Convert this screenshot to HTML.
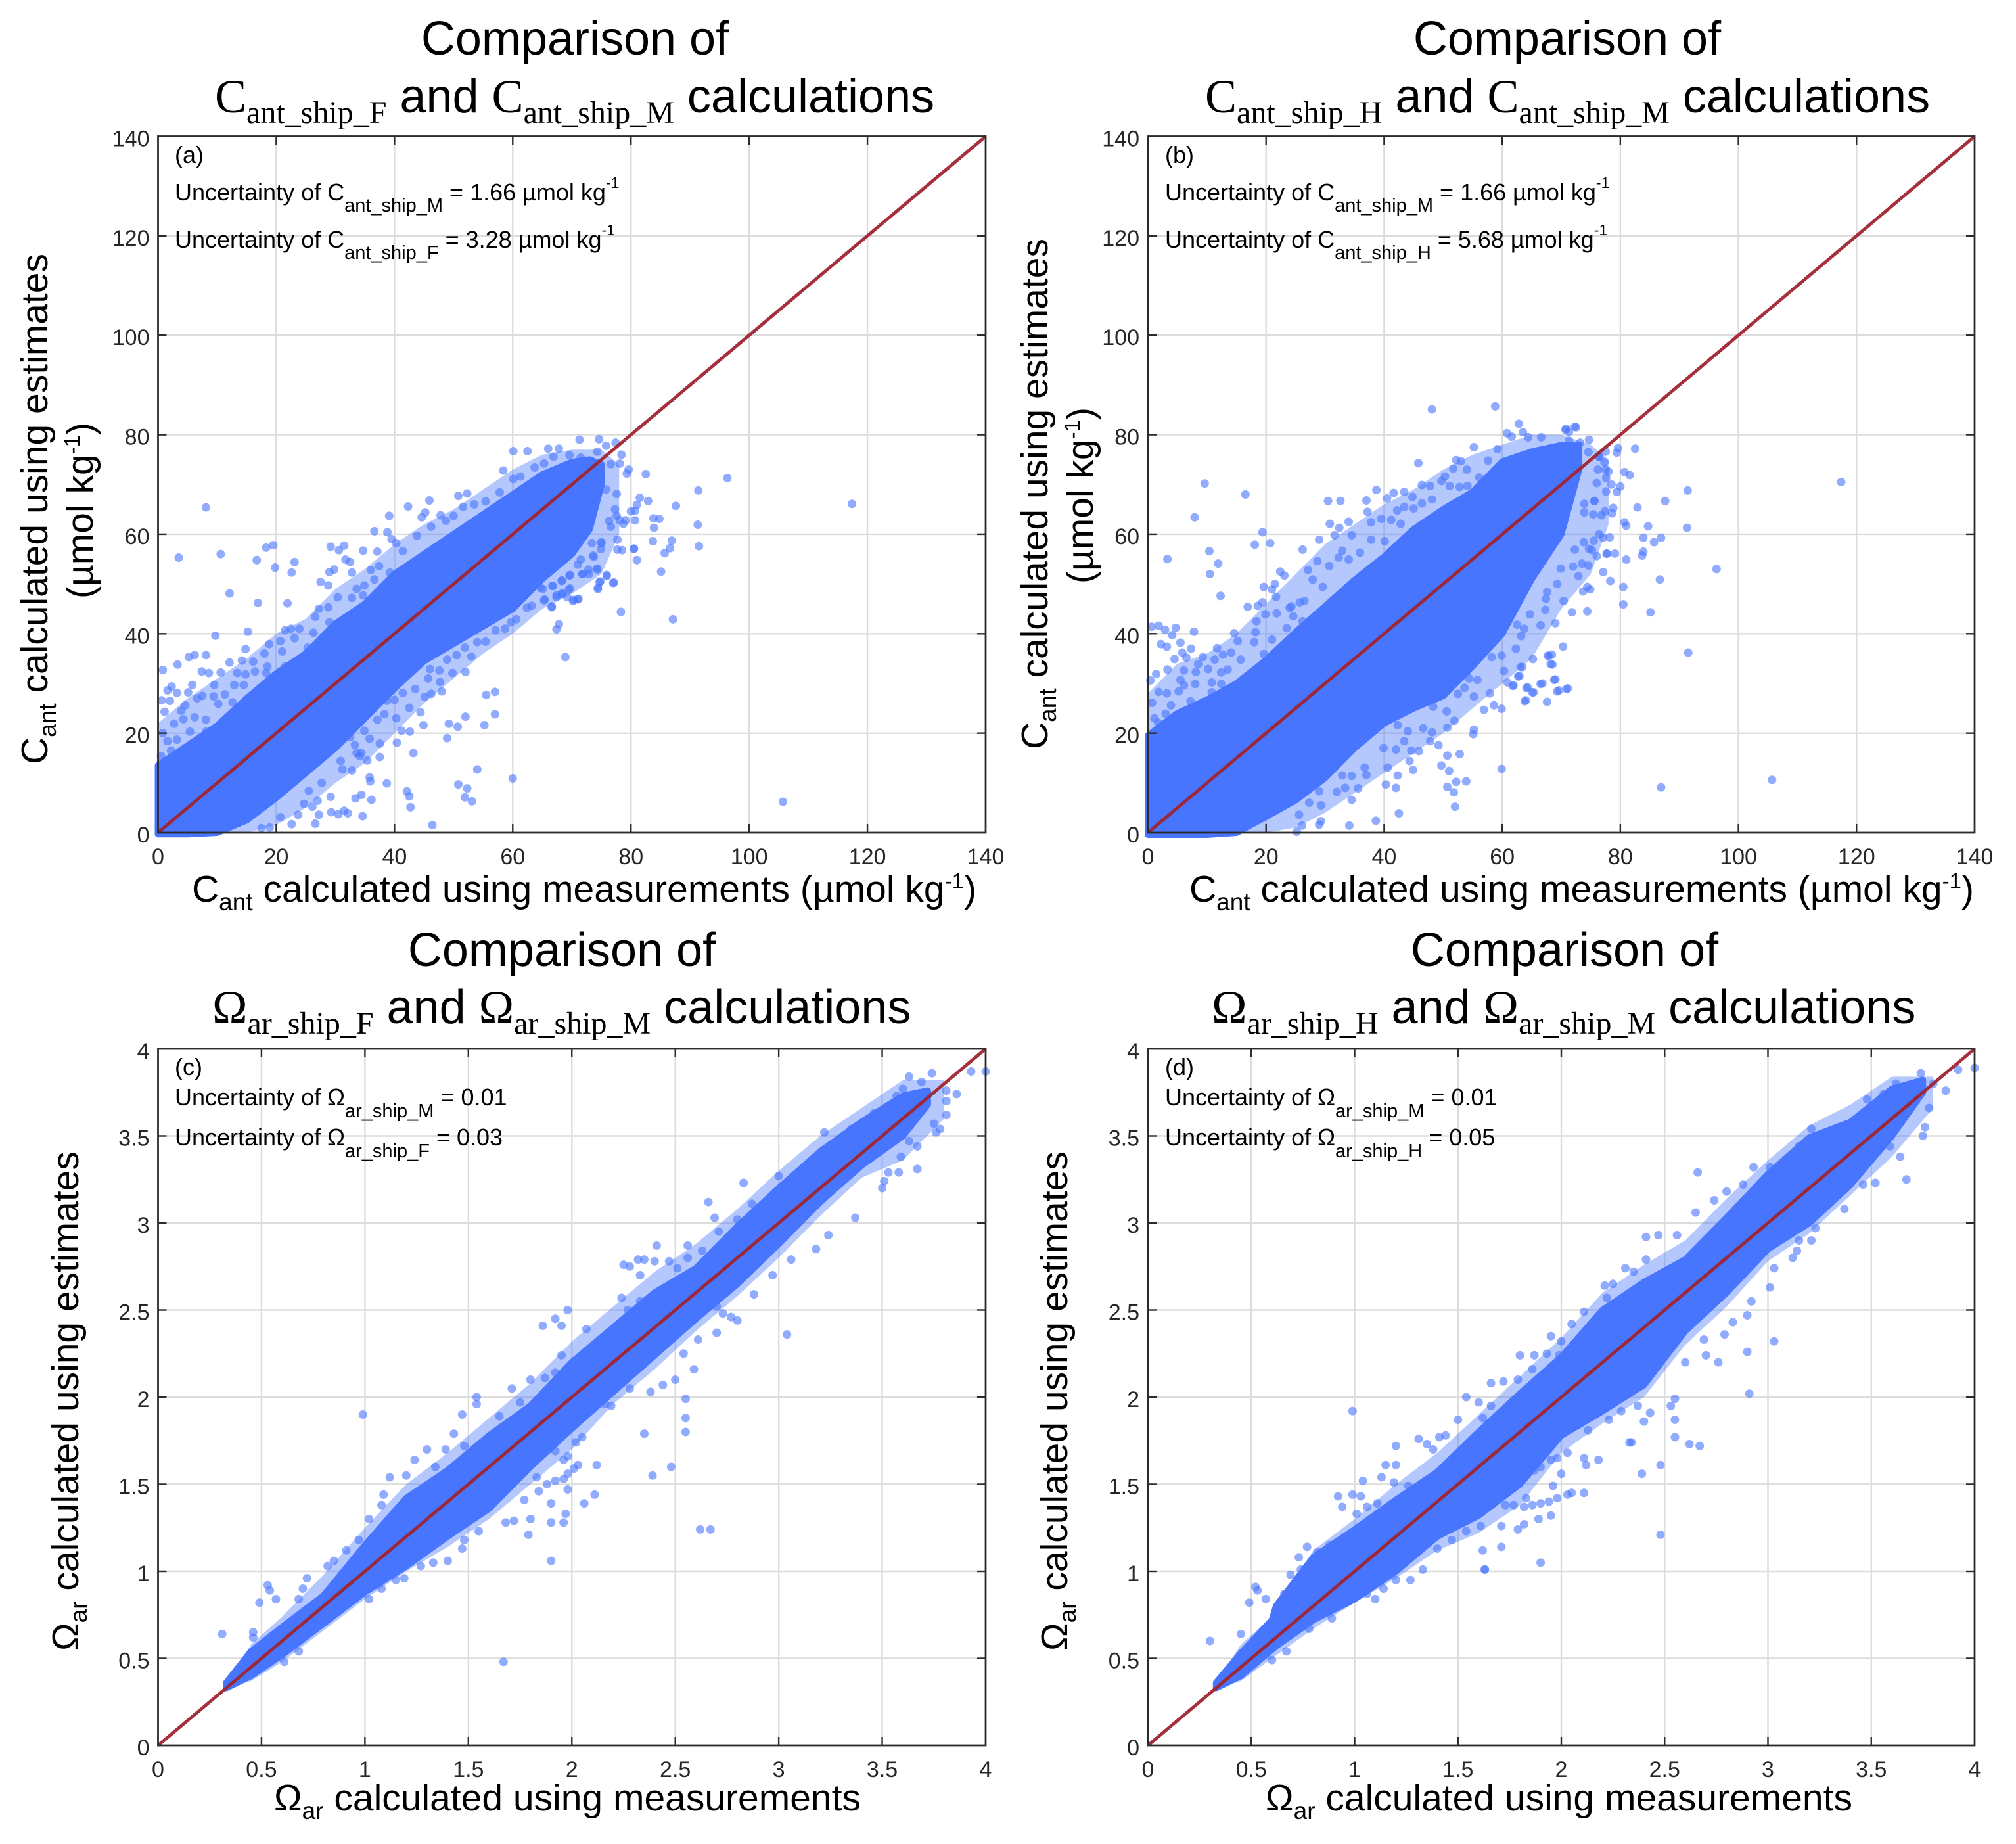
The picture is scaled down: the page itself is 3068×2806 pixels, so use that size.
<!DOCTYPE html>
<html lang="en">
<head>
<meta charset="utf-8">
<title>Comparison of estimated and measured Cant and Omega-ar</title>
<style>
html,body{margin:0;padding:0;background:#fff;}
svg{display:block;}
text{font-family:"Liberation Sans",Arial,sans-serif;fill:#000;white-space:pre;}
.s{font-family:"Liberation Serif","Times New Roman",serif;}
.tick{font-size:34px;fill:#262626;}
.ann{font-size:36px;}
.ttl{font-size:72px;}
.lab{font-size:57px;}
</style>
</head>
<body>
<svg id="figure" xmlns="http://www.w3.org/2000/svg" width="3068" height="2806" viewBox="0 0 3068 2806">
<rect width="3068" height="2806" fill="#fff"/>
<g id="charts"></g>

<!-- Panel a text -->
<text class="ttl" x="875" y="83" text-anchor="middle">Comparison of</text>
<text class="ttl" x="327" y="171"><tspan class="s">C</tspan><tspan class="s" font-size="48" dy="16">ant_ship_F</tspan><tspan dy="-16"> and </tspan><tspan class="s">C</tspan><tspan class="s" font-size="48" dy="16">ant_ship_M</tspan><tspan dy="-16"> calculations</tspan></text>
<text class="ann" x="266" y="248">(a)</text>
<text class="ann" x="266" y="305">Uncertainty of C<tspan font-size="29" dy="17">ant_ship_M</tspan><tspan dy="-17"> = 1.66 µmol kg</tspan><tspan font-size="23" dy="-19">-1</tspan></text>
<text class="ann" x="266" y="377">Uncertainty of C<tspan font-size="29" dy="17">ant_ship_F</tspan><tspan dy="-17"> = 3.28 µmol kg</tspan><tspan font-size="23" dy="-19">-1</tspan></text>
<text class="lab" x="292" y="1372">C<tspan font-size="37" dy="13">ant</tspan><tspan dy="-13"> calculated using measurements (µmol kg</tspan><tspan font-size="33" dy="-20">-1</tspan><tspan dy="20">)</tspan></text>
<text class="lab" transform="translate(72,1163) rotate(-90)">C<tspan font-size="37" dy="13">ant</tspan><tspan dy="-13"> calculated using estimates</tspan></text>
<text class="lab" transform="translate(141,777) rotate(-90)" text-anchor="middle">(µmol kg<tspan font-size="33" dy="-20">-1</tspan><tspan dy="20">)</tspan></text>

<!-- Panel b text -->
<text class="ttl" x="2385" y="83" text-anchor="middle">Comparison of</text>
<text class="ttl" x="1834" y="171"><tspan class="s">C</tspan><tspan class="s" font-size="48" dy="16">ant_ship_H</tspan><tspan dy="-16"> and </tspan><tspan class="s">C</tspan><tspan class="s" font-size="48" dy="16">ant_ship_M</tspan><tspan dy="-16"> calculations</tspan></text>
<text class="ann" x="1773" y="248">(b)</text>
<text class="ann" x="1773" y="305">Uncertainty of C<tspan font-size="29" dy="17">ant_ship_M</tspan><tspan dy="-17"> = 1.66 µmol kg</tspan><tspan font-size="23" dy="-19">-1</tspan></text>
<text class="ann" x="1773" y="377">Uncertainty of C<tspan font-size="29" dy="17">ant_ship_H</tspan><tspan dy="-17"> = 5.68 µmol kg</tspan><tspan font-size="23" dy="-19">-1</tspan></text>
<text class="lab" x="1810" y="1372">C<tspan font-size="37" dy="13">ant</tspan><tspan dy="-13"> calculated using measurements (µmol kg</tspan><tspan font-size="33" dy="-20">-1</tspan><tspan dy="20">)</tspan></text>
<text class="lab" transform="translate(1594,1140) rotate(-90)">C<tspan font-size="37" dy="13">ant</tspan><tspan dy="-13"> calculated using estimates</tspan></text>
<text class="lab" transform="translate(1663,754) rotate(-90)" text-anchor="middle">(µmol kg<tspan font-size="33" dy="-20">-1</tspan><tspan dy="20">)</tspan></text>

<!-- Panel c text -->
<text class="ttl" x="855" y="1470" text-anchor="middle">Comparison of</text>
<text class="ttl" x="323" y="1557"><tspan class="s">Ω</tspan><tspan class="s" font-size="48" dy="16">ar_ship_F</tspan><tspan dy="-16"> and </tspan><tspan class="s">Ω</tspan><tspan class="s" font-size="48" dy="16">ar_ship_M</tspan><tspan dy="-16"> calculations</tspan></text>
<text class="ann" x="266" y="1636">(c)</text>
<text class="ann" x="266" y="1682">Uncertainty of Ω<tspan font-size="29" dy="18">ar_ship_M</tspan><tspan dy="-18"> = 0.01</tspan></text>
<text class="ann" x="266" y="1743">Uncertainty of Ω<tspan font-size="29" dy="18">ar_ship_F</tspan><tspan dy="-18"> = 0.03</tspan></text>
<text class="lab" x="417" y="2755">Ω<tspan font-size="37" dy="13">ar</tspan><tspan dy="-13"> calculated using measurements</tspan></text>
<text class="lab" transform="translate(119,2512) rotate(-90)">Ω<tspan font-size="37" dy="13">ar</tspan><tspan dy="-13"> calculated using estimates</tspan></text>

<!-- Panel d text -->
<text class="ttl" x="2381" y="1470" text-anchor="middle">Comparison of</text>
<text class="ttl" x="1844" y="1557"><tspan class="s">Ω</tspan><tspan class="s" font-size="48" dy="16">ar_ship_H</tspan><tspan dy="-16"> and </tspan><tspan class="s">Ω</tspan><tspan class="s" font-size="48" dy="16">ar_ship_M</tspan><tspan dy="-16"> calculations</tspan></text>
<text class="ann" x="1773" y="1636">(d)</text>
<text class="ann" x="1773" y="1682">Uncertainty of Ω<tspan font-size="29" dy="18">ar_ship_M</tspan><tspan dy="-18"> = 0.01</tspan></text>
<text class="ann" x="1773" y="1743">Uncertainty of Ω<tspan font-size="29" dy="18">ar_ship_H</tspan><tspan dy="-18"> = 0.05</tspan></text>
<text class="lab" x="1926" y="2755">Ω<tspan font-size="37" dy="13">ar</tspan><tspan dy="-13"> calculated using measurements</tspan></text>
<text class="lab" transform="translate(1624,2512) rotate(-90)">Ω<tspan font-size="37" dy="13">ar</tspan><tspan dy="-13"> calculated using estimates</tspan></text>
</svg>

<script>
// Tick labels
const cantTicks = [0,20,40,60,80,100,120,140];
const omegaTicks = [0,0.5,1,1.5,2,2.5,3,3.5,4];
const oneToOne = [0,1];

const bandAX = [0,5,10,15,20,25,30,35,40,45,50,55,60,65,70,73,75];
const bandAHigh = [13.5,17.5,21.5,27,32,36,42,46,52,56,60,64,68,72,74.5,75,74];
const bandALow = [-0.3,-0.3,0,2.5,7,12,17,23,29,34.5,38,41.5,45,51,56,61,70];

const bandBX = [0,5,10,15,20,25,30,35,40,45,50,55,60,65,70,73];
const bandBHigh = [19.5,24,26.7,30,34.7,40.3,45.5,50.8,55.5,61,65,68.5,74.6,76.6,77.9,77.9];
const bandBLow = [-0.4,-0.4,-0.4,0,3.2,6.5,11,17,22,25,27.5,33.5,40,51,60,73];

const bandCX = [0.33,0.45,0.6,0.8,1,1.2,1.4,1.6,1.8,2,2.2,2.4,2.6,2.8,3,3.2,3.4,3.6,3.72];
const bandCHigh = [0.36,0.54,0.68,0.86,1.15,1.42,1.58,1.78,1.95,2.2,2.4,2.6,2.74,2.98,3.2,3.41,3.58,3.73,3.76];
const bandCLow = [0.33,0.4,0.52,0.7,0.88,1.03,1.2,1.36,1.6,1.82,2.03,2.24,2.45,2.65,2.88,3.12,3.33,3.5,3.68];

const bandDX = [0.33,0.45,0.6,0.62,0.8,1,1.2,1.4,1.6,1.8,2,2.2,2.4,2.6,2.8,3,3.2,3.4,3.6,3.75];
const bandDHigh = [0.36,0.53,0.72,0.8,1.08,1.24,1.41,1.57,1.8,2.02,2.23,2.5,2.66,2.79,3.03,3.28,3.49,3.58,3.77,3.82];
const bandDLow = [0.33,0.4,0.55,0.57,0.72,0.84,1,1.2,1.32,1.5,1.78,1.92,2.07,2.38,2.6,2.85,3,3.22,3.5,3.75];

// Sparser fringe around the dense cloud (lighter region of overlapping points)
const fringeCantX = [0,5,10,15,20,25,30,35,40,45,50,55,60,65,70,75,78];
const fringeAHigh = [22,27,31,35,40,43,49,53,58,62,65,69,73,76,77,77,74];
const fringeALow = [0,0,0,0,1.5,5,10,14,20,26,31,36,40,45,48,52,60];
const fringeBHigh = [28,34,36,40,46,52,58,62,66,69,73,76,78,80,80,78,75];
const fringeBLow = [0,0,0,0,0,1,4,8,12,16,20,25,30,35,45,52,62];

const fringeOmegaX = [0.33,0.45,0.6,0.8,1,1.2,1.4,1.6,1.8,2,2.2,2.4,2.6,2.8,3,3.2,3.4,3.6,3.8];
const fringeCHigh = [0.36,0.58,0.74,0.98,1.25,1.5,1.68,1.88,2.08,2.32,2.52,2.72,2.88,3.08,3.3,3.5,3.66,3.82,3.82];
const fringeCLow = [0.33,0.37,0.48,0.66,0.84,1,1.14,1.3,1.5,1.7,1.96,2.16,2.38,2.58,2.8,3.04,3.26,3.36,3.6];
const fringeDHigh = [0.36,0.58,0.74,1.12,1.3,1.5,1.68,1.9,2.12,2.34,2.6,2.76,2.9,3.14,3.36,3.56,3.68,3.84,3.84];
const fringeDLow = [0.33,0.37,0.5,0.67,0.82,0.96,1.12,1.22,1.38,1.68,1.85,2,2.3,2.52,2.78,2.94,3.16,3.38,3.66];

// Individually visible points [measurement, estimate]
const pointsA = [[8.1,65.4],[3.5,55.3],[10.6,56],[16.7,54.8],[18.3,57.3],[19.5,57.8],[19.8,53.3],[23.1,54.4],[22.6,52.3],[12.1,48.1],[16.9,46.2],[21.9,46.1],[29.2,57.5],[31.5,57.7],[30.6,56.8],[34.7,56.7],[37.1,56.5],[36.6,60.6],[39.1,63.7],[38.8,60.4],[42.3,65.6],[45.9,66.8],[50.8,67.7],[52.3,68.2],[44.6,63.4],[45.2,64.4],[47.8,63.8],[43.8,59.7],[46.2,61.5],[58.4,72.8],[60.1,76.7],[62.5,76.7],[66,77.2],[67.8,77.2],
[71.3,79],[74.6,79.1],[77.4,78.4],[75.8,77.8],[74.3,76.6],[78.4,76],[78.1,74.2],[76.6,74.1],[79.6,73],[79.3,72.2],[82.5,72.1],[96.3,71.3],[91.4,68.8],[117.4,66.1],[87.6,65.7],[81.5,67.3],[82.9,66.7],[81,65.9],[80,64.6],[80.7,64.7],[77.6,68.1],[75.8,69],[77.3,65],[77.6,63.7],[78.1,62.8],[79.1,62.8],[80.7,62.8],[78.7,62.1],[76.6,61.5],[76.3,62.7],[83.8,63.2],[84.8,63.1],[83.9,61.3],[91.3,61.9],[77.7,58.9],[83.7,58.6],[86.9,58.7],[86.6,57.2],[91.5,57.6],[85.7,56.2],[77.7,56.9],[78.5,56.8],[80.5,57.1],[80.5,57.1],[81,54.8],[85.1,52.5],[75,58.4],[73.6,55.7],[74.9,57],[74.3,53.1],[72.8,52.9],[71.8,52],[72.9,52],[75.9,51.8],[74.8,50.5],[77.1,50.3],[74.4,49.2],[69.7,51.8],[69.7,49.1],[68.4,48.1],[67.4,47.7],[69.2,47.4],[71.1,47],[70.3,46.8],[65.4,46.9],[66.6,45.5],[78.3,44.4],[87.1,42.9],[67.8,41.9],[67.4,40.9],[68.9,35.3],[68.3,50.7],[66.8,49.6],[64.7,49.2],
[53.5,66],[51.6,65.5],[50,63.7],[48.7,62.7],[55.4,66.6],[57.8,68.4],[61.3,71.6],[60.1,71.1],[63.7,73.4],[65.3,74.2],[66.9,75.6],[69.6,75.9],[71.5,75.4],[40.3,58.2],[41.4,56.6],[39.5,59],[31.7,54.9],[32.5,54.4],[37.4,53.6],[36,52.8],[32.8,52.3],[29.8,52.9],[29,52.4],[27.5,50.4],[28.8,49.7],[33.6,49],[34.9,49.7],[36.6,50.9],[39.2,52.3],[30.4,47.3],[32.8,47.2],[34.7,47.7],[27.2,45],[28.8,45.3],[26.6,43.4],[29,42.3],[21.5,40.7],[23.9,41],[22.5,41],[26.3,40.2],[15.2,40.4],[9.7,39.6],[20.7,38.5],[18.8,37.9],[14.8,36.9],[23.1,39.1],[25.3,37.2],[21,36.4],[18,36],[6.2,35.7],[5.2,35.3],[8.1,35.7],[3.3,33.8],[0.8,32.7],[12.1,34.2],[14.2,34.6],[16.1,34.4],[18.5,33.4],[21.5,33.4],[7.4,32.4],[8.6,32.1],[10.6,32.2],[13.4,32.1],[16.4,32.4],[18.3,32.1],[14.8,31.8],[9.5,29.7],[12.9,29.7],[14.5,29.7],[2.3,29.4],[5.8,29.7],[1.6,28.6],[3.2,28.1],[5.1,28.2],[7.5,27.5],[9.4,27.4],[11.3,27.8],[0.6,26.6],[2,26.5],[4.6,25.6],[6.6,27],[12.6,26.2],[1.1,24.3],[3.9,24.5],[10.2,25.9],[6.2,23.2],[4.3,22.8],[8.1,22.7],[2.7,21.9],[8.1,20.3],[5.4,20.3],[1.6,18.4],[3.2,18.7],[0.8,20],[2.2,16.5],[0.5,15.4],
[71.5,59.5],[73.4,58.2],[75,58.2],[71.5,54.9],[71,53.9],[73.7,55.5],[74.3,52.9],[71.8,52],[75.9,51.6],[74.7,50.4],[77,50.2],[74.4,49],[69.6,51.7],[68.3,50.6],[69.5,48.9],[71,46.9],[70.2,46.6],[68.3,48],[67.4,47.4],[65.3,46.7],[66.6,45.3],[62.4,45.2],[63.2,45.6],[66.7,49.6],[65.1,49],[64,51.5],[60.6,42.9],[59.7,42.3],[58.7,41],[57.1,40.7],[55.4,38.4],[54,38.3],[53,35.4],[51.9,37.2],[50.5,35.7],[52,32.3],[49.8,32.1],[47.6,32.6],[48.9,34.8],[46,32.9],[47.7,30.3],[48,28.4],[46.2,27.9],[45.1,27.3],[55.5,27.7],[57,28.3],[57,23.8],[52,23.3],[55.2,21.6],[49.2,21.9],[50.7,21.3],[48.9,19],[44.4,24.2],[44.9,21.6],[42.5,25.1],[41.2,20.5],[42.6,20.3],[40.3,23],[38.3,23.8],[40.4,18.1],[43.2,16],[37.5,17.9],[37.5,15.2],[35.8,18.9],[34.9,20.5],[37.1,22.7],[35.4,14.5],[34.1,15.4],[54,12.7],[60,10.9],[50.8,9.7],[52.3,8.9],[51.9,7.1],[53.1,6.3],[105.7,6.2],[42.1,8.3],[42.5,7.3],[42.7,5.1],[46.4,1.5],[38.7,9.9],[35.8,11.1],[35.9,10.3],[34.4,7.6],[33.4,6.9],[36.1,6.6],[34.6,3.3],[32.1,3.9],[31.5,4.4],[30.5,3.7],[29.3,4.1],[29.2,7.2],[27,6.4],[27.2,3.6],[26.6,1.8],[25.5,8.4],[27.7,10],[32.8,12.5],[31.2,12.7],[22.6,1.7],[18.9,1],[17.5,0.9],[23.7,3.6],[20.7,3.1],[24.7,5.8],[26.1,5.2],[33.3,17.6],[33.6,16],[30.9,14.4],[32.5,19.2],[34.4,16],[38.7,26.5],[40,26.7],[41.4,28.1],[43.5,28.9],[45.7,31]];

const pointsB = [[48.1,85.1],[58.8,85.7],[62.8,82.2],[70.7,81],[72.3,81.6],[60.8,80.3],[61.6,79.6],[63.5,80.5],[64.4,79.5],[66.6,79.5],[55.2,77.5],[59.2,77.1],[45.8,74.3],[9.6,70.2],[16.5,68],[7.9,63.4],[52.2,74.9],[53,74.7],[54,73],[51.7,73.2],[57.6,74.8],[56.1,71.4],[50.3,71.6],[49.7,70.7],[46.4,69.9],[47.8,69.7],[51.1,69.7],[52.8,69.5],[54.1,69.7],[38.7,68.9],[41.6,68.3],[43.4,68.5],[40.5,67.2],[44.8,67.5],[48.1,67],[30.5,66.7],[32.6,66.7],[37,66.8],[37.2,64.5],[42.2,64.8],[43.4,65.5],[46.4,66.2],[45,65.2],[30.8,62.1],[32.4,61.3],[34,62.5],[39.5,63.1],[37.8,62.4],[41.2,62.9],[42.8,62.1],[34.5,59.8],[31.6,59.8],[29,58.9],[26.2,56.9],[19.4,60.4],[18.1,57.9],[20.7,58.2],[10.4,56.6],[3.3,55],[11.9,54.1],[10.5,52],[12.3,47.6],[32.3,55.3],[32.9,56.7],[35.9,56.3],[37.8,58.9],[40.1,58.6],[34,54.9],[28.7,54.6],[27.1,52.8],[30.7,53.6],[22.4,52.5],[23.1,51.7],[21.5,50],[21,48.9],[19.6,49.4],[21.7,47.4],[27.9,50.9],[29.6,49.4],[26.5,46.6],[25.7,46.3],[24.3,45.5],[24,45.2],[18.6,45.6],[16.9,45.4],[19.4,46.3],[19.9,43.9],[21.8,44.1],[24.6,43.5],[26.2,42.5],[18.4,42.5],[18.2,40.3],[21,38.8],[23.5,41.1],[14.6,40.1],[15.2,38.5],[18,38.3],[0.6,41.4],[1.8,41.6],[2.9,40.8],[4.7,41.2],[7.8,40.4],[4.1,39.7],[2.2,37.9],[3.2,37.4],[5.5,38.2],[7.3,37],[11.7,37.1],[5.8,36.2],[4.5,34.9],[6.5,35.2],[9.3,35.3],[11.3,34.8],[12.7,35.8],[14.1,36.2],[15.7,34.8],[19.6,35.9],[1.4,31.9],[0.4,30.6],[3.3,32.8],[6.1,32.6],[8.5,33.9],[10.2,32.9],[12.4,32.2],[13.5,32.8],[5.5,30.7],[6.1,29.6],[8.1,32.3],[8,29.9],[10.8,30.2],[12.4,29.9],[15.5,29.6],[1.8,28.3],[3.2,28],[5.2,28.4],[10.8,28.2],[0.7,26.1],[7.2,26.4],[3.9,25.6],[9.4,26.3],[3,23.9],[7.7,24.7],[1.1,23],[1.7,22.1],
[72.5,81.5],[70.8,81.2],[71.3,80.6],[74.7,79],[71.3,78.8],[73.2,78.4],[82.5,77.2],[79.6,77.3],[79.4,76.4],[77.5,76.6],[76.4,75.6],[76.4,75.6],[74.6,76.5],[77.3,74.5],[76.2,73],[78,72.6],[77.5,73],[80.7,72.5],[81.6,71.9],[77.6,71.3],[78.5,70],[80,69.6],[77.6,68.6],[79.4,68.5],[91.4,68.8],[87.6,66.7],[82.9,65.4],[117.4,70.5],[75.6,66.7],[75.6,66.7],[76,70.3],[78.8,65.3],[77.4,64.6],[78.6,64.2],[76.8,63.8],[75.4,64],[73.9,64.4],[73.9,66.1],[80.7,62.4],[81,61.7],[84.7,61.6],[91.3,61.3],[83.9,59.3],[86.9,59.3],[85.7,58.4],[78.2,59.4],[77.1,59.3],[76.4,60],[75.5,58.7],[73.8,58.4],[72.3,56.9],[74.7,57.1],[75.2,56.8],[76,55.6],[77.7,56.1],[77.7,56.1],[79.1,56.1],[83.9,56.5],[83.7,55.7],[81,54.9],[74.6,53.7],[73.5,54.1],[72,53.5],[69.9,53.1],[77.1,52.4],[96.3,53],[72.9,51.6],[78.3,50.6],[80.5,49.4],[86.7,50.9],[69.3,50],[74.4,49.4],[74.9,48.9],[73.7,48.5],[67.6,48.4],[67.4,47],[70.4,46.6],[80.5,45.9],[67.3,44.8],[71.8,44.3],[74.4,44.5],[85.1,44.3],[64.7,43.9],[69,42.1],[66.5,41.7],[62.5,41.8],[63.7,41],[63.2,39.5],[70.3,37.4],[91.5,36.2],[62.3,37],[68.4,35.8],[67.9,35.5],[65.2,34.9],[68.5,33.8],[63.4,33.3],[62.9,31.5],[69,30.8],[66.8,30],[61.9,29.6],[64.3,29.2],[65.3,28.2],[69.6,28.6],[71.1,29],[64,26.6],[67.6,26.3],[105.7,10.6],[86.9,9.1],
[59.9,12.8],[59.9,24.9],[56.9,24.7],[58.6,25.6],[57.9,28],[60.9,30.2],[60.3,32.5],[61.8,29.5],[55.2,27.4],[55.2,20.7],[55.1,19.8],[50.7,21.1],[51.9,22.5],[50.6,24.4],[48.3,25.3],[45.6,26.4],[52.5,27.9],[53.6,29.1],[54.4,31],[55.8,30.7],[56.9,36.5],[59.9,35.6],[58.2,35.3],[48.1,20.2],[47.8,18.4],[49.2,17.6],[45.9,16.4],[44.6,16.5],[52.8,15.8],[50.7,15.5],[49.7,13.5],[51,12.4],[44.9,12.6],[44.3,14.4],[40.6,13.1],[42.3,11.5],[40.3,9.7],[42,9],[50.7,9.2],[52.2,10.2],[53.9,10.3],[51.8,8.1],[52,5.2],[42.5,3.9],[38.6,2.4],[34.1,1.4],[29,1.6],[26.1,1.4],[25.2,0.2],[29.3,2.3],[32,8.2],[33.4,9],[34.5,6.6],[35.6,8.9],[34.5,11.4],[36.7,13.1],[37,11.6],[32.9,11.5],[29.3,5.5],[27.3,6],[25.6,3.6],[29,8.3],[39.9,17],[42,16.7],[43.4,18.4],[42.3,21.6],[44,20.4],[46.6,21],[63.8,26.4],[69.3,28.4],[70.9,28.9],[68.8,30.7],[66.5,29.9],[64.1,29.1],[65.1,28.2],[63.1,33.3],[62.7,31.4],[68.2,33.9],[67.7,35.6]];

const pointsC = [[0.31,0.64],[0.46,0.65],[0.46,0.62],[0.49,0.82],[0.53,0.92],[0.54,0.89],[0.57,0.84],[0.68,0.84],[0.7,0.9],[0.72,0.96],[0.61,0.48],[0.68,0.54],[1.67,0.48],[0.99,1.9],[1.02,0.84],[1.08,0.9],[1.19,0.96],[1.15,0.95],[1.27,1.03],[1.33,1.05],[1.4,1.06],[1.47,1.13],[1.48,1.18],[1.55,1.23],[1.68,1.28],[1.72,1.29],[1.8,1.3],[1.79,1.21],[1.9,1.28],[1.96,1.28],[1.97,1.33],[1.9,1.06],[1.9,1.39],[2.06,1.39],[2.11,1.44],[1.98,1.47],[1.77,1.41],[2.62,1.24],[2.67,1.24],[2.39,1.55],[2.48,1.6],[2.35,1.79],[2.55,1.8],[2.55,1.88],[2.55,1.99],[3.04,2.36],[2.59,2.16],[2.5,2.1],[2.44,2.07],[2.38,2.03],[2.28,2.05],[2.19,1.95],[2.12,1.61],[2.03,1.61],[2.01,1.59],[1.98,1.56],[1.96,1.53],[1.92,1.52],[1.88,1.5],[1.84,1.46],[1.83,1.54],[1.92,1.69],[1.98,1.66],[1.96,1.64],[2.05,1.77],[2.02,1.74],[2.06,1.89],[2.16,1.96],
[1.86,2.41],[1.92,2.45],[1.95,2.41],[1.98,2.5],[2.07,2.39],[1.95,2.24],[1.8,2.1],[1.87,2.11],[1.92,2.14],[1.71,2.05],[1.75,1.97],[1.54,2],[1.54,1.96],[1.47,1.9],[1.65,1.89],[1.43,1.79],[1.3,1.7],[1.48,1.72],[1.39,1.7],[1.24,1.64],[1.12,1.54],[1.2,1.55],[1.34,1.6],[1.09,1.44],[1.08,1.38],[1.02,1.3],[0.97,1.18],[0.91,1.12],[0.85,1.06],[0.82,1.03],[2.24,2.57],[2.27,2.5],[2.33,2.55],[2.39,2.58],[2.25,2.76],[2.28,2.75],[2.32,2.79],[2.35,2.79],[2.33,2.7],[2.4,2.78],[2.41,2.87],[2.47,2.78],[2.51,2.74],[2.56,2.87],[2.56,2.8],[2.63,2.84],[2.71,2.95],[2.69,3.03],[2.66,3.12],[2.8,3.02],[2.83,3.23],[3,3.27],[2.87,3.11],[3.22,3.52],[3.35,3.54],[3.46,3.63],[3.57,3.73],[3.63,3.84],[3.69,3.81],[3.74,3.86],[3.6,3.77],[3.93,3.87],[4,3.87],[3.86,3.74],[3.81,3.76],[3.81,3.7],[3.81,3.62],[3.76,3.52],[3.78,3.54],[3.75,3.57],[3.67,3.44],[3.67,3.31],[3.59,3.38],[3.63,3.47],[3.5,3.2],[3.53,3.29],[3.58,3.29],[3.51,3.24],[3.37,3.03],[3.24,2.93],[3.18,2.85],[3.06,2.79],[2.97,2.7],[2.88,2.59],[2.8,2.44],[2.77,2.46],[2.7,2.37],[2.61,2.33],[2.54,2.25],[2.73,2.48],[2.7,2.52]];

const pointsD = [[0.3,0.6],[0.45,0.64],[0.49,0.82],[0.52,0.91],[0.53,0.89],[0.57,0.84],[0.6,0.49],[0.67,0.54],[0.99,1.92],[1.63,1.01],[1.63,1.01],[1.62,1.12],[1.71,1.14],[1.9,1.05],[2.48,1.21],[2.39,1.56],[2.48,1.61],[2.11,1.45],[2.62,1.73],[2.67,1.72],[2.55,1.77],[2.33,1.74],[2.34,1.74],[2.18,1.64],[2.11,1.65],[2.12,1.61],[2.55,1.87],[2.53,1.95],[2.55,1.99],[2.43,1.91],[2.4,1.86],[2.37,1.95],[2.91,2.02],[3.03,2.32],[2.9,2.26],[2.76,2.2],[2.7,2.24],[2.6,2.2],[2.79,2.36],[2.69,2.33],[2.9,2.47],[2.66,3.29],[2.41,2.92],[2.47,2.93],[2.56,2.93],[2.65,3.06],[2.74,3.13],[2.8,3.18],[2.93,3.32],[3.01,3.32],[2.88,3.22],[3.21,3.54],[3.15,3.44],[3.48,3.71],[3.56,3.74],[3.62,3.8],[3.74,3.86],[3.92,3.88],[4,3.89],[3.8,3.8],[3.86,3.76],[3.78,3.66],[3.76,3.55],[3.75,3.5],[3.64,3.38],[3.67,3.25],[3.52,3.23],[3.46,3.22],[3.59,3.44],[3.37,3.08],[3.23,2.97],[3.14,2.84],[3.03,2.74],[2.92,2.55],[2.83,2.43],[3.15,2.9],[3.21,2.9],[3.12,2.8],[3.01,2.63],
[2.41,2.79],[2.31,2.74],[2.35,2.72],[2.21,2.64],[2.25,2.65],[2.22,2.57],[2.11,2.49],[2.05,2.42],[1.95,2.35],[2,2.32],[1.8,2.24],[1.87,2.24],[1.93,2.25],[1.99,2.24],[1.86,2.16],[1.79,2.1],[1.72,2.09],[1.66,2.08],[1.54,2],[1.6,1.97],[1.66,1.95],[1.5,1.87],[1.62,1.88],[1.41,1.77],[1.44,1.78],[1.2,1.72],[1.31,1.76],[1.35,1.73],[1.38,1.7],[1.2,1.61],[1.15,1.61],[1.04,1.52],[1.13,1.54],[1.19,1.51],[1.26,1.49],[0.92,1.43],[0.99,1.44],[1.03,1.43],[0.94,1.37],[1.06,1.37],[1.11,1.39],[1.01,1.33],[0.77,1.14],[0.82,1.11],[0.88,1.15],[0.93,1.14],[0.73,1.08],[0.74,1.01],[0.69,0.98],[0.66,0.87],
[2.05,1.45],[2.03,1.44],[1.98,1.42],[1.94,1.4],[1.9,1.39],[1.86,1.38],[1.82,1.37],[1.77,1.38],[1.73,1.38],[1.83,1.42],[1.96,1.49],[1.95,1.32],[1.89,1.3],[1.82,1.27],[1.79,1.24],[1.71,1.26],[1.61,1.26],[1.54,1.23],[1.47,1.18],[1.4,1.13],[1.33,1.01],[1.27,0.95],[1.2,0.95],[1.1,0.84],[1.14,0.9],[1.06,0.87],[0.89,0.73],[0.78,0.67],[2,1.56],[1.95,1.64],[1.87,1.58],[1.9,1.6],[2.03,1.68],[1.98,1.65],[2.13,1.81],[2.08,1.84],[2.23,1.87],[2.29,1.92],[2.2,1.95],[2.13,1.89]];

const panelSetups = [
  {id:'a', left:240.5, right:1500, top:207.5, bottom:1267, max:140, ticks:cantTicks, bandX:bandAX, bandHigh:bandAHigh, bandLow:bandALow, fringeX:fringeCantX, fringeHigh:fringeAHigh, fringeLow:fringeALow, points:pointsA},
  {id:'b', left:1747, right:3005, top:207.5, bottom:1267, max:140, ticks:cantTicks, bandX:bandBX, bandHigh:bandBHigh, bandLow:bandBLow, fringeX:fringeCantX, fringeHigh:fringeBHigh, fringeLow:fringeBLow, points:pointsB},
  {id:'c', left:240.5, right:1500, top:1596, bottom:2656, max:4, ticks:omegaTicks, bandX:bandCX, bandHigh:bandCHigh, bandLow:bandCLow, fringeX:fringeOmegaX, fringeHigh:fringeCHigh, fringeLow:fringeCLow, points:pointsC},
  {id:'d', left:1747, right:3005, top:1596, bottom:2656, max:4, ticks:omegaTicks, bandX:bandDX, bandHigh:bandDHigh, bandLow:bandDLow, fringeX:fringeOmegaX, fringeHigh:fringeDHigh, fringeLow:fringeDLow, points:pointsD}
];

const svgNS = 'http://www.w3.org/2000/svg';
const root = document.getElementById('charts');

function make(tag, parent, attrs) {
  const el = document.createElementNS(svgNS, tag);
  for (const k in attrs) el.setAttribute(k, attrs[k]);
  parent.appendChild(el);
  return el;
}

function drawPanel(p) {
  const xAxis = v => p.left + (v / p.max) * (p.right - p.left);
  const yAxis = v => p.bottom - (v / p.max) * (p.bottom - p.top);

  const g = make('g', root, {});
  
  

  p.ticks.forEach(t => {
    if (t > 0 && t < p.max) {
      const gx = make('line', g, {x1:xAxis(t), x2:xAxis(t), y1:p.top, y2:p.bottom, stroke:'#dcdcdc', 'stroke-width':2.4});
      
      
      const gy = make('line', g, {x1:p.left, x2:p.right, y1:yAxis(t), y2:yAxis(t), stroke:'#dcdcdc', 'stroke-width':2.4});
      
      
    }
  });

  const fringeUp = p.fringeX.map((x, i) => xAxis(x) + ',' + yAxis(p.fringeHigh[i]));
  const fringeDown = p.fringeX.map((x, i) => xAxis(x) + ',' + yAxis(p.fringeLow[i])).reverse();
  const fringe = make('polygon', g, {points:fringeUp.concat(fringeDown).join(' '), fill:'#4775fd', 'fill-opacity':0.4, stroke:'none'});
  
  

  const upper = p.bandX.map((x, i) => xAxis(x) + ',' + yAxis(p.bandHigh[i]));
  const lower = p.bandX.map((x, i) => xAxis(x) + ',' + yAxis(p.bandLow[i])).reverse();
  const band = make('polygon', g, {points:upper.concat(lower).join(' '), fill:'#4775fd', stroke:'#4775fd', 'stroke-width':10, 'stroke-linejoin':'round'});
  
  

  p.points.forEach(pt => {
    const c = make('circle', g, {cx:xAxis(pt[0]), cy:yAxis(pt[1]), r:6.5, fill:'#4775fd', 'fill-opacity':0.6});
    
    
  });

  const ref = make('line', g, {x1:xAxis(oneToOne[0] * p.max), y1:yAxis(oneToOne[0] * p.max), x2:xAxis(oneToOne[1] * p.max), y2:yAxis(oneToOne[1] * p.max), stroke:'#a0242f', 'stroke-opacity':0.95, 'stroke-width':5});
  
  

  const frame = make('rect', g, {x:p.left, y:p.top, width:p.right - p.left, height:p.bottom - p.top, fill:'none', stroke:'#2b2b2b', 'stroke-width':2.8});
  
  

  p.ticks.forEach(t => {
    if (t > 0 && t < p.max) {
      [[xAxis(t), p.bottom, xAxis(t), p.bottom - 13], [xAxis(t), p.top, xAxis(t), p.top + 13], [p.left, yAxis(t), p.left + 13, yAxis(t)], [p.right, yAxis(t), p.right - 13, yAxis(t)]].forEach(s => {
        const tk = make('line', g, {x1:s[0], y1:s[1], x2:s[2], y2:s[3], stroke:'#2b2b2b', 'stroke-width':2.4});
        
        
      });
    }
    const xl = make('text', g, {x:xAxis(t), y:p.bottom + 48, 'text-anchor':'middle', class:'tick'});
    xl.textContent = String(t);
    
    
    const yl = make('text', g, {x:p.left - 13, y:yAxis(t) + 15, 'text-anchor':'end', class:'tick'});
    yl.textContent = String(t);
    
    
  });
}

panelSetups.forEach(drawPanel);
</script>
</body>
</html>
